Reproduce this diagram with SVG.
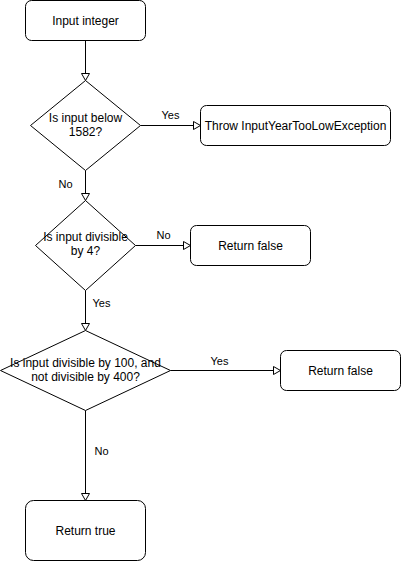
<svg xmlns="http://www.w3.org/2000/svg" width="401" height="561" viewBox="0 0 401 561">
<style>
.box{fill:#fff;stroke:#000;stroke-width:1}
.t{font-family:"Liberation Sans",Arial,sans-serif;font-size:12px;fill:#000;text-anchor:middle}
.l{font-family:"Liberation Sans",Arial,sans-serif;font-size:11px;fill:#000;text-anchor:middle}
.e{fill:none;stroke:#000;stroke-width:1}
</style>
<defs>
<marker id="arr" markerUnits="userSpaceOnUse" markerWidth="10" markerHeight="10" refX="7.5" refY="4.5" orient="auto">
<path d="M0.5,0.5 L7.5,4.5 L0.5,8.5 Z" fill="#fff" stroke="#000" stroke-width="1"/>
</marker>
</defs>
<rect width="401" height="561" fill="#fff"/>
<g id="connectors">
<path class="e" d="M85.5,40.5 V80.5" marker-end="url(#arr)"/>
<path class="e" d="M140.5,125.5 H200.5" marker-end="url(#arr)"/>
<path class="e" d="M85.5,170.5 V200.5" marker-end="url(#arr)"/>
<path class="e" d="M135.5,245.5 H190.5" marker-end="url(#arr)"/>
<path class="e" d="M85.5,290.5 V330.5" marker-end="url(#arr)"/>
<path class="e" d="M170.5,370.5 H280.5" marker-end="url(#arr)"/>
<path class="e" d="M85.5,410.5 V500.5" marker-end="url(#arr)"/>
<text class="l" x="170.5" y="119">Yes</text>
<text class="l" x="65.5" y="188">No</text>
<text class="l" x="163.5" y="239">No</text>
<text class="l" x="101.5" y="307">Yes</text>
<text class="l" x="219.5" y="365">Yes</text>
<text class="l" x="101.5" y="455">No</text>
</g>
<g id="start">
<rect class="box" x="25.5" y="0.5" width="120" height="40" rx="6"/>
<text class="t" x="85.5" y="24.5">Input integer</text>
</g>
<g id="d1">
<path class="box" d="M85.5,80.5 L140.5,125.5 L85.5,170.5 L30.5,125.5 Z"/>
<text class="t" x="85.5" y="121.5">Is input below</text>
<text class="t" x="85.5" y="135.5">1582?</text>
</g>
<g id="throw">
<rect class="box" x="200.5" y="105.5" width="190" height="40" rx="6"/>
<text class="t" x="295.5" y="129.5">Throw InputYearTooLowException</text>
</g>
<g id="d2">
<path class="box" d="M85.5,200.5 L135.5,245.5 L85.5,290.5 L35.5,245.5 Z"/>
<text class="t" x="85.5" y="241">Is input divisible</text>
<text class="t" x="85.5" y="255">by 4?</text>
</g>
<g id="false1">
<rect class="box" x="190.5" y="225.5" width="120" height="40" rx="6"/>
<text class="t" x="250.5" y="249.5">Return false</text>
</g>
<g id="d3">
<path class="box" d="M85.5,330.5 L170.5,370.5 L85.5,410.5 L0.5,370.5 Z"/>
<text class="t" x="85.5" y="367">Is input divisible by 100, and</text>
<text class="t" x="85.5" y="381">not divisible by 400?</text>
</g>
<g id="false2">
<rect class="box" x="280.5" y="350.5" width="120" height="40" rx="6"/>
<text class="t" x="340.5" y="374.5">Return false</text>
</g>
<g id="true">
<rect class="box" x="25.5" y="500.5" width="120" height="60" rx="8"/>
<text class="t" x="85.5" y="534.5">Return true</text>
</g>
</svg>
